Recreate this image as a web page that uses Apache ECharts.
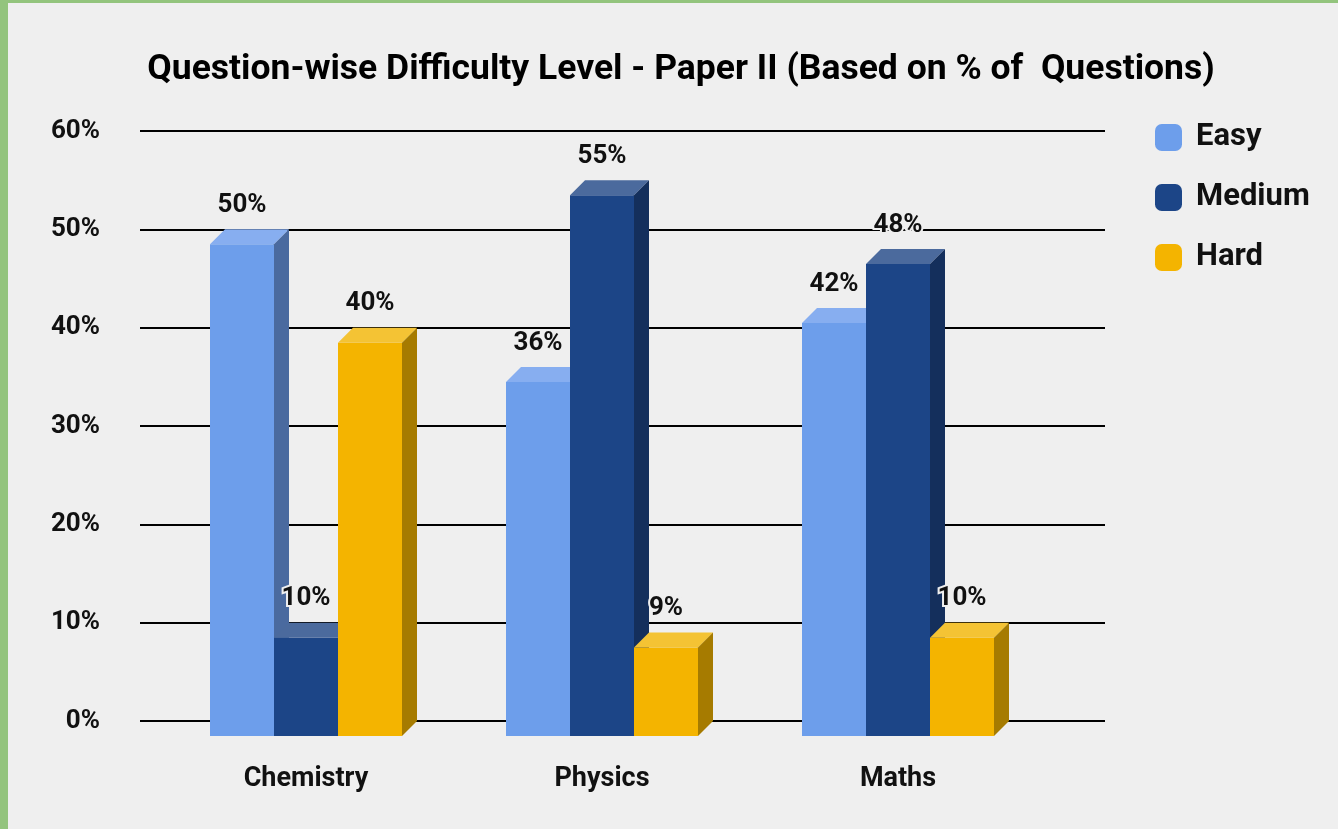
<!DOCTYPE html>
<html>
<head>
<meta charset="utf-8">
<script src="https://cdn.jsdelivr.net/npm/echarts@6/dist/echarts.min.js"></script>
<style>
html, body { margin: 0; padding: 0; background: #efefef; }
#main { width: 1338px; height: 829px; }
</style>
</head>
<body>
<div id="main"></div>
<script>
var categories = ['Chemistry', 'Physics', 'Maths'];
var easy = [50, 36, 42];
var medium = [10, 55, 48];
var hard = [40, 9, 10];
var yTicks = [0, 60, 10]; // min, max, step

var myChart = echarts.init(document.getElementById('main'));

// front / top / side colours of each box
var faces = {
	Easy: ['#6d9eeb', '#87aef0', '#4a6a9f'],
	Medium: ['#1c4587', '#4b6a9d', '#142f5c'],
	Hard: ['#f4b400', '#f4c334', '#a67b00']
};

function bar3d(name, idx) {
	var c = faces[name];
	return function (params, api) {
		var cat = api.value(0), v = api.value(1);
		var p = api.coord([cat, v]);
		var p0 = api.coord([cat, 0]);
		var bw = 64, d = 15;
		var x = p[0] - 1.5 * bw + idx * bw;
		var top = p[1] + d, bot = p0[1] + d;
		return {
			type: 'group',
			children: [{
				type: 'rect',
				shape: { x: x, y: top, width: bw, height: bot - top },
				style: { fill: c[0] }
			}, {
				type: 'polygon',
				shape: { points: [[x, top], [x + d, p[1]], [x + bw + d, p[1]], [x + bw, top]] },
				style: { fill: c[1] }
			}, {
				type: 'polygon',
				shape: { points: [[x + bw, top], [x + bw + d, p[1]], [x + bw + d, p0[1]], [x + bw, bot]] },
				style: { fill: c[2] }
			}, {
				type: 'text',
				z2: 10,
				style: {
					text: v + '%',
					x: x + bw / 2,
					y: p[1] - 24,
					align: 'center',
					verticalAlign: 'middle',
					fill: '#111',
					stroke: '#efefef',
					lineWidth: 4,
					font: 'bold 26px Roboto'
				}
			}]
		};
	};
}

function makeSeries(name, vals, idx) {
	return {
		name: name,
		type: 'custom',
		xAxisIndex: 1,
		yAxisIndex: 1,
		itemStyle: { color: faces[name][0] },
		renderItem: bar3d(name, idx),
		encode: { x: 0, y: 1 },
		data: vals.map(function (v, i) { return [i, v]; })
	};
}

option = {
	backgroundColor: '#efefef',
	animation: false,
	title: {
		text: 'Question-wise Difficulty Level - Paper II (Based on % of  Questions)',
		left: 676,
		textAlign: 'center',
		top: 47,
		textStyle: {
			fontFamily: 'Roboto',
			fontWeight: 'bold',
			fontSize: 35.5,
			color: '#000'
		}
	},
	legend: {
		orient: 'vertical',
		left: 1150,
		top: 117,
		icon: 'roundRect',
		itemWidth: 27,
		itemHeight: 27,
		itemGap: 29,
		textStyle: { fontFamily: 'Roboto', fontWeight: 'bold', fontSize: 31, lineHeight: 27, color: '#111', padding: [0, 0, 0, 9] },
		data: ['Easy', 'Medium', 'Hard']
	},
	graphic: [
		{ type: 'rect', shape: { x: 0, y: 0, width: 8, height: 829 }, style: { fill: '#93c47d' } },
		{ type: 'rect', shape: { x: 0, y: 0, width: 1338, height: 3 }, style: { fill: '#93c47d' } }
	],
	grid: [
		{ left: 140, right: 233, top: 131, bottom: 108 },
		{ left: 158, right: 292, top: 131, bottom: 108 }
	],
	xAxis: [{
		gridIndex: 0,
		type: 'category',
		data: categories,
		show: false
	}, {
		gridIndex: 1,
		type: 'category',
		data: categories,
		axisLine: { show: false },
		axisTick: { show: false },
		axisLabel: {
			margin: 45,
			fontFamily: 'Roboto',
			fontWeight: 'bold',
			fontSize: 27,
			color: '#111'
		}
	}],
	yAxis: [{
		gridIndex: 0,
		type: 'value',
		min: yTicks[0],
		max: yTicks[1],
		interval: yTicks[2],
		axisLine: { show: false },
		axisTick: { show: false },
		axisLabel: {
			margin: 40,
			formatter: '{value}%',
			fontFamily: 'Roboto',
			fontWeight: 'bold',
			fontSize: 26,
			color: '#111',
			padding: [10, 0, 0, 0]
		},
		splitLine: { lineStyle: { color: '#000', width: 2 } }
	}, {
		gridIndex: 1,
		type: 'value',
		min: yTicks[0],
		max: yTicks[1],
		interval: yTicks[2],
		show: false,
		splitLine: { show: false }
	}],
	series: [
		makeSeries('Easy', easy, 0),
		makeSeries('Medium', medium, 1),
		makeSeries('Hard', hard, 2)
	]
};

myChart.setOption(option);
window.addEventListener('resize', function () {
	myChart.resize();
});
</script>
</body>
</html>
